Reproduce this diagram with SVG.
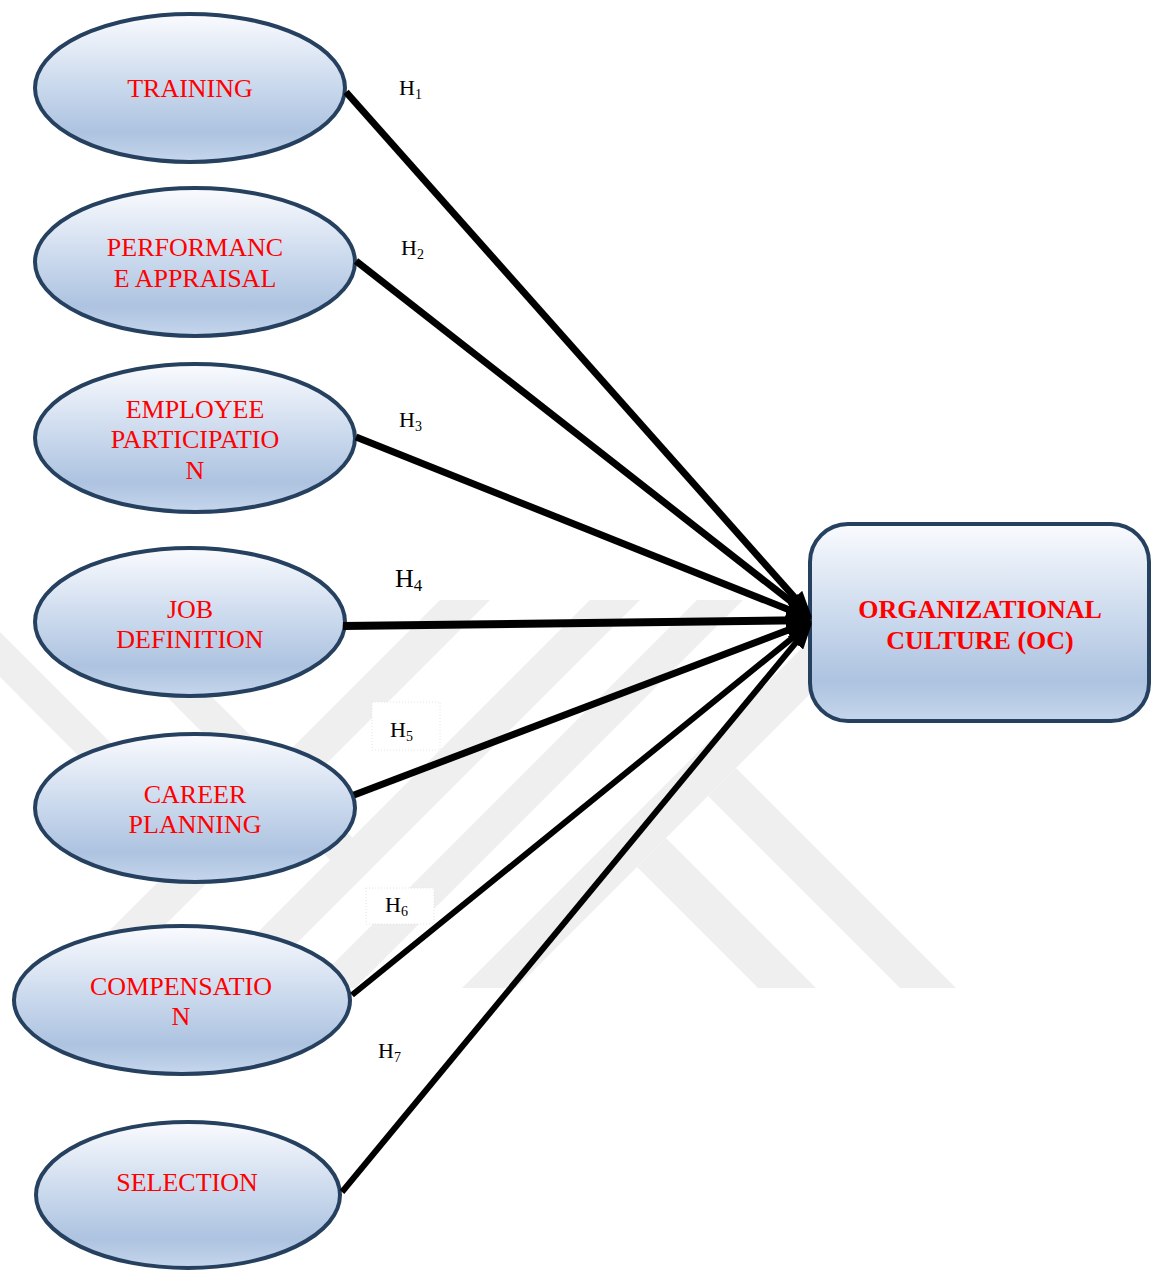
<svg xmlns="http://www.w3.org/2000/svg" width="1154" height="1270" viewBox="0 0 1154 1270">
  <defs>
    <linearGradient id="fillBlue" x1="0" y1="0" x2="0" y2="1">
      <stop offset="0" stop-color="#fafbfe"/>
      <stop offset="0.45" stop-color="#cddbee"/>
      <stop offset="0.8" stop-color="#adc3e0"/>
      <stop offset="1" stop-color="#c6d6ec"/>
    </linearGradient>
    <marker id="arrow" viewBox="0 0 26 20" markerWidth="26" markerHeight="20" refX="14" refY="10" orient="auto" markerUnits="userSpaceOnUse">
      <path d="M0,0 L26,10 L0,20 z" fill="#000"/>
    </marker>
    <style>
      .node { fill: url(#fillBlue); stroke: #26415f; stroke-width: 4; }
      .label { font-family: "Liberation Serif", "Times New Roman", serif; font-size: 26px; fill: #ff0000; text-anchor: middle; }
      .bold { font-weight: bold; }
      .edge { fill: none; stroke: #000; stroke-linecap: butt; marker-end: url(#arrow); }
      .hyp { font-family: "Liberation Serif", "Times New Roman", serif; font-size: 22px; fill: #000; }
      .sub { font-size: 14px; }
      .mark { fill: #efefef; }
      .tbox { fill: #ffffff; stroke: #e4e4e4; stroke-width: 1; stroke-dasharray: 1 2; }
    </style>
  </defs>

  <rect width="1154" height="1270" fill="#ffffff"/>

  <!-- background emblem: light grey stripes -->
  <g id="emblem">
    <polygon class="mark" points="462,988 516,988 944,560 890,560"/>
    <polygon class="mark" points="309,988 355,988 743,600 697,600"/>
    <polygon class="mark" points="202,988 252,988 640,600 590,600"/>
    <polygon class="mark" points="52,988 102,988 490,600 440,600"/>
    <polygon class="mark" points="736,768 956,988 900,988 708,796"/>
    <polygon class="mark" points="666,838 816,988 758,988 637,867"/>
    <polygon class="mark" points="0,632 229,861 206,884 0,677"/>
    <polygon class="mark" points="165,650 377,862 355,885 120,650"/>
  </g>

  <!-- hypothesis labels -->
  <g id="labels">
    <text class="hyp" x="399" y="95">H<tspan class="sub" dy="4">1</tspan></text>
    <text class="hyp" x="401" y="255">H<tspan class="sub" dy="4">2</tspan></text>
    <text class="hyp" x="399" y="427">H<tspan class="sub" dy="4">3</tspan></text>
    <text class="hyp" x="395" y="587" style="font-size:26px">H<tspan style="font-size:17px" dy="4">4</tspan></text>
    <rect class="tbox" x="372" y="702" width="68" height="48"/>
    <text class="hyp" x="390" y="737">H<tspan class="sub" dy="4">5</tspan></text>
    <rect class="tbox" x="366" y="888" width="68" height="36"/>
    <text class="hyp" x="385" y="912">H<tspan class="sub" dy="4">6</tspan></text>
    <text class="hyp" x="378" y="1058">H<tspan class="sub" dy="4">7</tspan></text>
  </g>

  <!-- nodes -->
  <g id="training">
    <ellipse class="node" cx="190" cy="88" rx="155" ry="74"/>
    <text class="label" x="190" y="97">TRAINING</text>
  </g>
  <g id="performance-appraisal">
    <ellipse class="node" cx="195" cy="262" rx="160" ry="74"/>
    <text class="label" x="195" y="256">PERFORMANC</text>
    <text class="label" x="195" y="287">E APPRAISAL</text>
  </g>
  <g id="employee-participation">
    <ellipse class="node" cx="195" cy="438" rx="160" ry="74"/>
    <text class="label" x="195" y="418">EMPLOYEE</text>
    <text class="label" x="195" y="448">PARTICIPATIO</text>
    <text class="label" x="195" y="479">N</text>
  </g>
  <g id="job-definition">
    <ellipse class="node" cx="190" cy="622" rx="155" ry="74"/>
    <text class="label" x="190" y="618">JOB</text>
    <text class="label" x="190" y="648">DEFINITION</text>
  </g>
  <g id="career-planning">
    <ellipse class="node" cx="195" cy="808" rx="160" ry="74"/>
    <text class="label" x="195" y="803">CAREER</text>
    <text class="label" x="195" y="833">PLANNING</text>
  </g>
  <g id="compensation">
    <ellipse class="node" cx="182" cy="1000" rx="168" ry="74"/>
    <text class="label" x="181" y="995">COMPENSATIO</text>
    <text class="label" x="181" y="1025">N</text>
  </g>
  <g id="selection">
    <ellipse class="node" cx="188" cy="1195" rx="152" ry="73"/>
    <text class="label" x="187" y="1191">SELECTION</text>
  </g>
  <g id="organizational-culture">
    <rect class="node" x="810" y="524" width="339" height="197" rx="38" ry="38"/>
    <text class="label bold" x="980" y="618">ORGANIZATIONAL</text>
    <text class="label bold" x="980" y="649">CULTURE (OC)</text>
  </g>

  <!-- connectors -->
  <g id="connectors">
    <line class="edge" x1="346" y1="92" x2="804" y2="608" stroke-width="7"/>
    <line class="edge" x1="356" y1="261" x2="802.5" y2="610.6" stroke-width="7"/>
    <line class="edge" x1="356" y1="437" x2="800.9" y2="614.6" stroke-width="7"/>
    <line class="edge" x1="343" y1="626" x2="800" y2="620.2" stroke-width="8"/>
    <line class="edge" x1="354" y1="795" x2="800.8" y2="625.3" stroke-width="7"/>
    <line class="edge" x1="352" y1="995" x2="802.7" y2="629.6" stroke-width="6"/>
    <line class="edge" x1="342" y1="1192" x2="804.4" y2="632.3" stroke-width="6"/>
  </g>
</svg>
